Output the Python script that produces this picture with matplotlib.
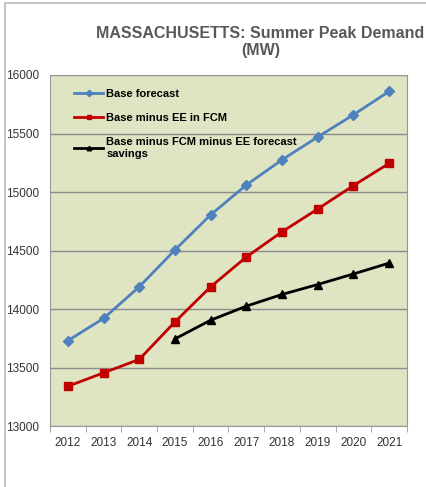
import matplotlib
matplotlib.use('Agg')
import matplotlib.pyplot as plt
from matplotlib.patches import Rectangle

plt.rcParams['font.family'] = ['Liberation Sans', 'DejaVu Sans']

anos = [2012, 2013, 2014, 2015, 2016, 2017, 2018, 2019, 2020, 2021]
base_forecast = [13730, 13920, 14190, 14505, 14805, 15060, 15275, 15470, 15660, 15860]
base_menos_ee = [13340, 13455, 13570, 13890, 14190, 14445, 14660, 14855, 15055, 15245]
anos_fcm = [2015, 2016, 2017, 2018, 2019, 2020, 2021]
base_menos_fcm = [13745, 13905, 14025, 14125, 14210, 14300, 14393]

fig = plt.figure(figsize=(4.27, 4.87), dpi=100)
ax = fig.add_axes([0.117, 0.125, 0.836, 0.721])
ax.set_facecolor('#DFE4C3')

x = list(range(len(anos)))
x_fcm = [anos.index(a) for a in anos_fcm]

ax.plot(x, base_forecast, c='#4F81BD', lw=2, marker='D', ms=5.5, label='Base forecast')
ax.plot(x, base_menos_ee, c='#C00000', lw=2, marker='s', ms=6, label='Base minus EE in FCM')
ax.plot(x_fcm, base_menos_fcm, c='black', lw=2, marker='^', ms=5.5,
        label='Base minus FCM minus EE forecast\nsavings')

ax.set_xlim(-0.5, len(anos) - 0.5)
ax.set_ylim(13000, 16000)
ax.set_yticks(range(13000, 16001, 500))
ax.set_xticks(x)
ax.set_xticklabels([str(a) for a in anos])
ax.set_xticks([i - 0.5 for i in range(len(anos) + 1)], minor=True)
ax.tick_params(axis='x', which='major', length=0, pad=8, labelsize=8.5, colors='#333333')
ax.tick_params(axis='x', which='minor', length=4, color='#999999')
ax.tick_params(axis='y', length=0, pad=8, labelsize=8.5, colors='#333333')
ax.grid(axis='y', color='#8C8C8C', lw=1)
ax.set_axisbelow(True)
for s in ['left', 'right', 'top', 'bottom']:
    ax.spines[s].set_color('#999999')

leg = ax.legend(loc='upper left', bbox_to_anchor=(0.04, 0.99), frameon=False,
                prop={'weight': 'bold', 'size': 8}, markerscale=0.6,
                handlelength=2.6, labelspacing=1.3, handletextpad=0.3)

fig.text(0.61, 0.913, 'MASSACHUSETTS: Summer Peak Demand\n(MW)', ha='center', va='center',
         fontsize=11.5, fontweight='bold', color='#595959', linespacing=1.15)

fig.patches.append(Rectangle((0.012, -0.1), 1.1, 1.094, transform=fig.transFigure,
                             fill=False, edgecolor='#BBBBBB', lw=1.2))

plt.savefig('out.png', dpi=100)
